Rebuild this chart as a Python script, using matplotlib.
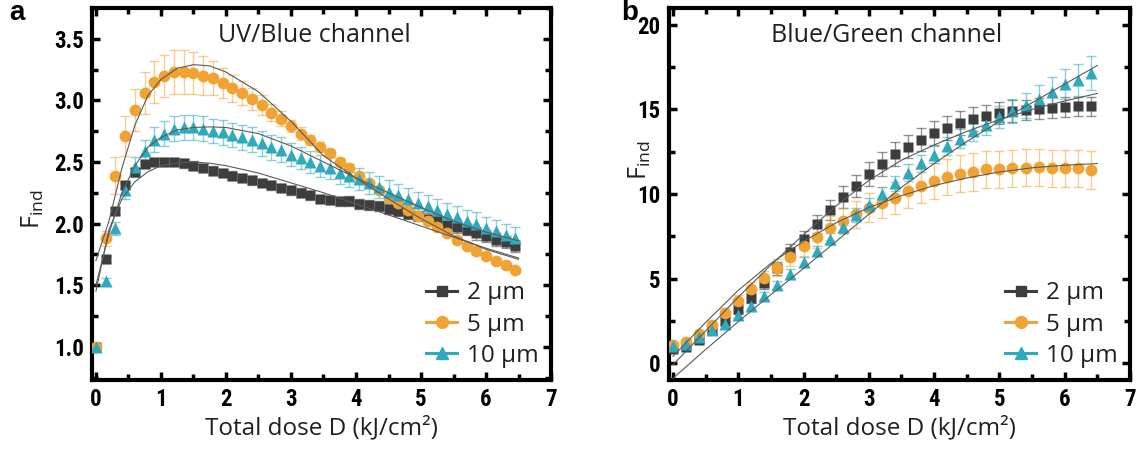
import matplotlib
matplotlib.use("Agg")
import matplotlib.pyplot as plt
from matplotlib.ticker import MultipleLocator

plt.rcParams['font.family'] = ['Open Sans', 'DejaVu Sans']
plt.rcParams['mathtext.fontset'] = 'custom'
plt.rcParams['mathtext.rm'] = 'Open Sans'

GRAY = '#3d3d3f'
ORANGE = '#f0a233'
TEAL = '#2fa9bd'
TEXT = '#231f20'
TICK_FONT = ['Liberation Sans Narrow', 'Roboto Condensed', 'DejaVu Sans Condensed',
             'Liberation Sans']

labels = ['2 µm', '5 µm', '10 µm']

# ---- panel a: UV/Blue channel ----
dose_a = [0.0, 0.15, 0.3, 0.45, 0.6, 0.75, 0.9, 1.05, 1.2, 1.35, 1.5, 1.65, 1.8, 1.95, 2.1,
          2.25, 2.4, 2.55, 2.7, 2.85, 3.0, 3.15, 3.3, 3.45, 3.6, 3.75, 3.9, 4.05, 4.2, 4.35,
          4.5, 4.65, 4.8, 4.95, 5.1, 5.25, 5.4, 5.55, 5.7, 5.85, 6.0, 6.15, 6.3, 6.45]
gray_a = [1.0, 1.71, 2.10, 2.31, 2.42, 2.48, 2.50, 2.50, 2.50, 2.49, 2.47, 2.45, 2.43, 2.41,
          2.39, 2.37, 2.35, 2.33, 2.31, 2.29, 2.27, 2.25, 2.23, 2.20, 2.19, 2.18, 2.18, 2.16,
          2.15, 2.14, 2.12, 2.10, 2.08, 2.06, 2.04, 2.02, 1.99, 1.97, 1.95, 1.92, 1.90, 1.87,
          1.85, 1.82]
orange_a = [1.0, 1.88, 2.39, 2.71, 2.92, 3.06, 3.15, 3.20, 3.23, 3.23, 3.22, 3.20, 3.18, 3.14,
            3.10, 3.06, 3.01, 2.96, 2.90, 2.85, 2.79, 2.73, 2.68, 2.62, 2.57, 2.50, 2.45, 2.39,
            2.33, 2.27, 2.21, 2.17, 2.11, 2.06, 2.02, 1.97, 1.92, 1.87, 1.82, 1.78, 1.74, 1.70,
            1.66, 1.62]
teal_a = [1.0, 1.53, 1.96, 2.27, 2.46, 2.59, 2.68, 2.73, 2.77, 2.78, 2.78, 2.77, 2.75, 2.74,
          2.72, 2.70, 2.68, 2.65, 2.62, 2.60, 2.56, 2.53, 2.50, 2.47, 2.45, 2.41, 2.39, 2.36,
          2.33, 2.30, 2.26, 2.23, 2.20, 2.17, 2.14, 2.11, 2.08, 2.05, 2.02, 2.00, 1.96, 1.94,
          1.91, 1.88]
gray_a_err = [0.0, 0.03, 0.03, 0.03, 0.03, 0.03, 0.03, 0.035, 0.035, 0.035, 0.035, 0.035,
              0.035, 0.035, 0.035, 0.035, 0.035, 0.035, 0.035, 0.035, 0.035, 0.035, 0.035,
              0.035, 0.035, 0.035, 0.04, 0.04, 0.04, 0.04, 0.04, 0.04, 0.04, 0.04, 0.045,
              0.045, 0.045, 0.045, 0.045, 0.05, 0.05, 0.05, 0.05, 0.05]
orange_a_err = [0.0, 0.06, 0.15, 0.16, 0.17, 0.17, 0.17, 0.17, 0.18, 0.18, 0.17, 0.16, 0.14,
                0.12, 0.11, 0.10, 0.09, 0.08, 0.07, 0.06, 0.05, 0.05, 0.04, 0.04, 0.03, 0.03,
                0.03, 0.02, 0.02, 0.02, 0.02, 0.02, 0.02, 0.02, 0.02, 0.02, 0.02, 0.02, 0.02,
                0.02, 0.02, 0.02, 0.02, 0.02]
teal_a_err = [0.0, 0.03, 0.05, 0.07, 0.08, 0.09, 0.10, 0.10, 0.10, 0.10, 0.10, 0.10, 0.10,
              0.10, 0.10, 0.10, 0.10, 0.10, 0.10, 0.10, 0.09, 0.09, 0.09, 0.09, 0.09, 0.09,
              0.09, 0.09, 0.09, 0.09, 0.09, 0.09, 0.09, 0.09, 0.09, 0.09, 0.09, 0.09, 0.09,
              0.09, 0.09, 0.09, 0.09, 0.09]

# fitted curves
fit_x_a = [0.0, 0.2, 0.4, 0.6, 0.8, 1.0, 1.25, 1.5, 1.75, 2.0, 2.5, 3.0, 3.5, 4.0, 4.5, 5.0,
           5.5, 6.0, 6.5]
fit_gray_a = [1.45, 1.95, 2.20, 2.34, 2.42, 2.47, 2.49, 2.50, 2.49, 2.47, 2.41, 2.33, 2.25,
              2.16, 2.07, 1.98, 1.89, 1.80, 1.72]
fit_orange_a = [1.70, 2.02, 2.45, 2.80, 3.04, 3.17, 3.26, 3.29, 3.28, 3.23, 3.07, 2.83, 2.55,
                2.37, 2.20, 2.04, 1.90, 1.79, 1.71]
fit_teal_a = [1.50, 1.92, 2.25, 2.47, 2.62, 2.70, 2.76, 2.78, 2.785, 2.78, 2.73, 2.63, 2.50,
              2.37, 2.25, 2.13, 2.02, 1.93, 1.86]

# ---- panel b: Blue/Green channel ----
dose_b = [0.0, 0.2, 0.4, 0.6, 0.8, 1.0, 1.2, 1.4, 1.6, 1.8, 2.0, 2.2, 2.4, 2.6, 2.8, 3.0, 3.2,
          3.4, 3.6, 3.8, 4.0, 4.2, 4.4, 4.6, 4.8, 5.0, 5.2, 5.4, 5.6, 5.8, 6.0, 6.2, 6.4]
gray_b = [0.85, 0.97, 1.36, 1.95, 2.49, 3.18, 3.86, 4.71, 5.60, 6.57, 7.32, 8.22, 9.05, 9.80,
          10.49, 11.18, 11.78, 12.35, 12.80, 13.22, 13.59, 13.91, 14.20, 14.44, 14.62, 14.77,
          14.91, 14.97, 15.05, 15.11, 15.13, 15.19, 15.19]
orange_b = [1.05, 1.26, 1.70, 2.25, 2.94, 3.67, 4.38, 5.01, 5.64, 6.29, 6.94, 7.47, 7.97, 8.40,
            8.80, 9.19, 9.49, 9.78, 10.20, 10.46, 10.77, 11.01, 11.20, 11.30, 11.46, 11.46,
            11.52, 11.56, 11.58, 11.52, 11.52, 11.52, 11.42]
teal_b = [1.02, 1.10, 1.52, 1.95, 2.31, 2.84, 3.37, 3.96, 4.62, 5.25, 5.96, 6.65, 7.32, 8.07,
          8.76, 9.35, 9.98, 10.63, 11.26, 11.82, 12.31, 12.84, 13.28, 13.75, 14.08, 14.54,
          14.91, 15.25, 15.62, 16.05, 16.49, 16.75, 17.14]
gray_b_err = [0.1, 0.15, 0.2, 0.2, 0.25, 0.3, 0.3, 0.35, 0.4, 0.45, 0.5, 0.55, 0.6, 0.65, 0.65,
              0.7, 0.7, 0.7, 0.7, 0.7, 0.7, 0.7, 0.7, 0.7, 0.65, 0.65, 0.65, 0.6, 0.6, 0.6,
              0.6, 0.55, 0.55]
orange_b_err = [0.1, 0.15, 0.2, 0.25, 0.3, 0.35, 0.4, 0.45, 0.5, 0.55, 0.6, 0.65, 0.7, 0.75,
                0.8, 0.85, 0.9, 0.95, 1.0, 1.0, 1.05, 1.05, 1.1, 1.1, 1.1, 1.1, 1.1, 1.1, 1.1,
                1.1, 1.1, 1.1, 1.1]
teal_b_err = [0.1, 0.1, 0.15, 0.15, 0.2, 0.2, 0.2, 0.25, 0.25, 0.3, 0.3, 0.3, 0.35, 0.35, 0.4,
              0.4, 0.45, 0.45, 0.5, 0.5, 0.5, 0.55, 0.55, 0.6, 0.6, 0.65, 0.7, 0.75, 0.8, 0.85,
              0.9, 0.95, 1.0]

fit_x_b = [0.0, 0.5, 1.0, 1.5, 2.0, 2.5, 3.0, 3.5, 4.0, 4.5, 5.0, 5.5, 6.0, 6.5]
fit_gray_b = [-0.1, 1.9, 3.9, 5.8, 7.6, 9.3, 10.8, 12.0, 12.9, 13.7, 14.4, 15.0, 15.5, 15.95]
fit_orange_b = [0.4, 2.4, 4.3, 5.9, 7.2, 8.3, 9.2, 9.9, 10.5, 10.95, 11.3, 11.55, 11.7, 11.8]
fit_teal_b = [-0.9, 0.8, 2.45, 4.05, 5.6, 7.2, 8.8, 10.4, 11.8, 13.1, 14.3, 15.4, 16.5, 17.6]


def draw_panel(ax, x, series, errs, fx, fits, ylim, ymajor, yminor, yfmt, title, title_x):
    markers = ['s', 'o', '^']
    colors = [GRAY, ORANGE, TEAL]
    sizes = [7, 8.5, 8.5]
    for fy in fits:
        ax.plot(fx, fy, color='#5a5a5a', lw=0.8, zorder=4)
    for y, e, m, c, s, lab in zip(series, errs, markers, colors, sizes, labels):
        ax.errorbar(x, y, yerr=e, fmt='none', ecolor=c, alpha=0.55, elinewidth=1.0,
                    capsize=3.5, capthick=1.0, zorder=2)
        ax.plot(x, y, ls='none', marker=m, ms=s, color=c, mec='none', zorder=3)
        ax.plot([], [], marker=m, ms=s, color=c, lw=2.2, label=lab)
    ax.set_xlim(-0.06, 7)
    ax.set_ylim(*ylim)
    ax.xaxis.set_major_locator(MultipleLocator(1))
    ax.xaxis.set_minor_locator(MultipleLocator(0.5))
    ax.yaxis.set_major_locator(MultipleLocator(ymajor))
    ax.yaxis.set_minor_locator(MultipleLocator(yminor))
    ax.yaxis.set_major_formatter(yfmt)
    for s in ax.spines.values():
        s.set_linewidth(3)
    ax.tick_params(which='both', direction='in', top=True, right=True, width=2.5,
                   labelsize=16.5, pad=6, colors='black')
    ax.tick_params(which='major', length=6)
    ax.tick_params(which='minor', length=4)
    for t in ax.get_xticklabels() + ax.get_yticklabels():
        t.set_family(TICK_FONT)
        t.set_fontweight('bold')
    ax.set_xlabel('Total dose D (kJ/cm²)', fontsize=17.5, color=TEXT, labelpad=3)
    ax.text(title_x, 0.925, title, transform=ax.transAxes, ha='center', va='center',
            fontsize=18, color=TEXT)
    ax.legend(loc='lower right', frameon=False, fontsize=17.5, handlelength=1.3,
              handletextpad=0.4, labelspacing=0.3, borderaxespad=0.1, labelcolor=TEXT)


fig = plt.figure(figsize=(11.39, 4.49), dpi=100)
ax_a = fig.add_axes([0.0808, 0.1537, 0.403, 0.8285])
ax_b = fig.add_axes([0.5874, 0.1537, 0.4047, 0.8285])

draw_panel(ax_a, dose_a, [gray_a, orange_a, teal_a], [gray_a_err, orange_a_err, teal_a_err],
           fit_x_a, [fit_gray_a, fit_orange_a, fit_teal_a], (0.73, 3.75), 0.5, 0.25, '{x:.1f}',
           'UV/Blue channel', 0.484)
draw_panel(ax_b, dose_b, [gray_b, orange_b, teal_b], [gray_b_err, orange_b_err, teal_b_err],
           fit_x_b, [fit_gray_b, fit_orange_b, fit_teal_b], (-1.0, 21.0), 5, 2.5, '{x:.0f}',
           'Blue/Green channel', 0.473)

ax_a.set_ylabel(r'$\mathrm{F}_{\mathrm{ind}}$', fontsize=18, color=TEXT)
ax_a.yaxis.set_label_coords(-0.1, 0.46)
ax_b.set_ylabel(r'$\mathrm{F}_{\mathrm{ind}}$', fontsize=18, color=TEXT)
ax_b.yaxis.set_label_coords(-0.035, 0.59)

fig.text(0.008, 0.955, 'a', fontsize=20, fontweight='bold', family='Liberation Sans')
fig.text(0.545, 0.955, 'b', fontsize=20, fontweight='bold', family='Liberation Sans')

fig.savefig('out.png', dpi=100)
